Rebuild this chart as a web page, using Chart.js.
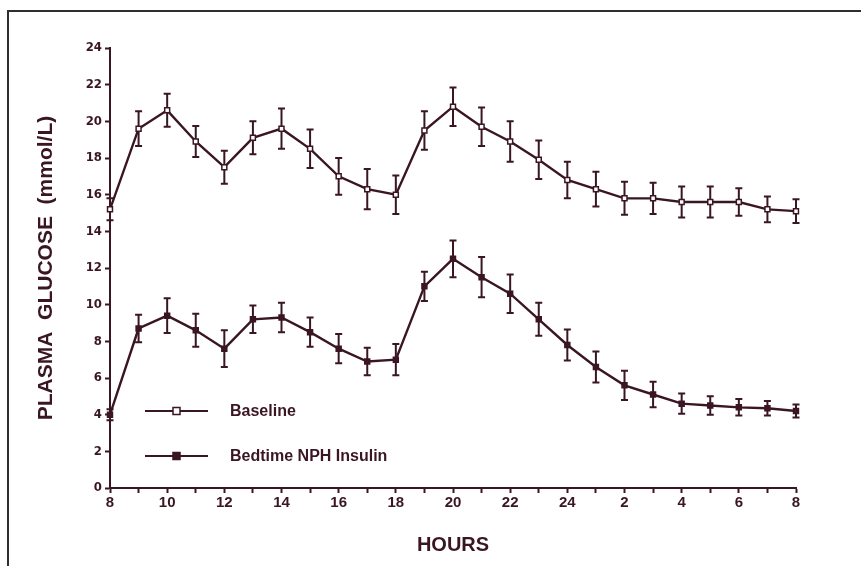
<!DOCTYPE html>
<html>
<head>
<meta charset="utf-8">
<script src="https://cdn.jsdelivr.net/npm/chart.js@4.4.1/dist/chart.umd.min.js"></script>
<style>
    body { margin: 0; background: #fff; }
    #wrap { position: relative; width: 861px; height: 566px; overflow: hidden; }
    #frame { position: absolute; left: 7px; top: 10px; width: 900px; height: 600px;
             border-left: 2px solid #2e2e2e; border-top: 2px solid #2e2e2e; }
    #glucoseChart { position: absolute; left: 0; top: 0; }
</style>
</head>
<body>
<div id="wrap">
    <div id="frame"></div>
    <canvas id="glucoseChart" width="861" height="566"></canvas>
</div>
<script>
// --- DATA ---
// clock hour of each sample, 8 am to 8 am next day
const clockHours = [8, 9, 10, 11, 12, 13, 14, 15, 16, 17, 18, 19, 20, 21, 22, 23, 24, 1, 2, 3, 4, 5, 6, 7, 8];
const xTickLabels = ['8', '', '10', '', '12', '', '14', '', '16', '', '18', '', '20', '', '22', '', '24', '', '2', '', '4', '', '6', '', '8'];

const baseline    = [15.2, 19.6, 20.6, 18.9, 17.5, 19.1, 19.6, 18.5, 17.0, 16.3, 16.0, 19.5, 20.8, 19.7, 18.9, 17.9, 16.8, 16.3, 15.8, 15.8, 15.6, 15.6, 15.6, 15.2, 15.1];
const baselineErr = [0.6, 0.95, 0.9, 0.85, 0.9, 0.9, 1.1, 1.05, 1.0, 1.1, 1.05, 1.05, 1.05, 1.05, 1.1, 1.05, 1.0, 0.95, 0.9, 0.85, 0.85, 0.85, 0.75, 0.7, 0.65];

const nph    = [4.0, 8.7, 9.4, 8.6, 7.6, 9.2, 9.3, 8.5, 7.6, 6.9, 7.0, 11.0, 12.5, 11.5, 10.6, 9.2, 7.8, 6.6, 5.6, 5.1, 4.6, 4.5, 4.4, 4.35, 4.2];
const nphErr = [0.3, 0.75, 0.95, 0.9, 1.0, 0.75, 0.8, 0.8, 0.8, 0.75, 0.85, 0.8, 1.0, 1.1, 1.05, 0.9, 0.85, 0.85, 0.8, 0.7, 0.55, 0.5, 0.45, 0.4, 0.35];

const seriesNames = ['Baseline', 'Bedtime NPH Insulin'];

// --- STYLE ---
const INK = '#3a1624';
const NARROW = "'Liberation Sans Narrow', 'DejaVu Sans Condensed', 'Liberation Sans', sans-serif";
const SANS = "'Liberation Sans', Arial, sans-serif";

// error bars, drawn under the line markers
const errorBars = {
    id: 'errorBars',
    beforeDatasetsDraw(chart) {
        const ctx = chart.ctx;
        const y = chart.scales.y;
        ctx.save();
        ctx.strokeStyle = INK;
        ctx.lineWidth = 2;
        chart.data.datasets.forEach((ds, di) => {
            const meta = chart.getDatasetMeta(di);
            meta.data.forEach((pt, i) => {
                const e = ds.errors[i];
                const v = ds.data[i];
                const yTop = y.getPixelForValue(v + e);
                const yBot = y.getPixelForValue(v - e);
                ctx.beginPath();
                ctx.moveTo(pt.x, yTop); ctx.lineTo(pt.x, yBot);
                ctx.moveTo(pt.x - 3.5, yTop); ctx.lineTo(pt.x + 3.5, yTop);
                ctx.moveTo(pt.x - 3.5, yBot); ctx.lineTo(pt.x + 3.5, yBot);
                ctx.stroke();
            });
        });
        ctx.restore();
    }
};

// legend sits inside the plot, lower left
const insideLegend = {
    id: 'insideLegend',
    afterDraw(chart) {
        const ctx = chart.ctx;
        const area = chart.chartArea;
        const x0 = area.left + 35, x1 = area.left + 98;
        const rows = [area.bottom - 77, area.bottom - 32];
        ctx.save();
        chart.data.datasets.forEach((ds, i) => {
            const yy = rows[i];
            ctx.strokeStyle = INK;
            ctx.lineWidth = 2;
            ctx.beginPath();
            ctx.moveTo(x0, yy); ctx.lineTo(x1, yy);
            ctx.stroke();
            const mx = (x0 + x1) / 2;
            ctx.fillStyle = ds.pointBackgroundColor;
            ctx.fillRect(mx - 3.5, yy - 3.5, 7, 7);
            ctx.lineWidth = 1.5;
            ctx.strokeRect(mx - 3.5, yy - 3.5, 7, 7);
            ctx.fillStyle = INK;
            ctx.font = 'bold 16px ' + SANS;
            ctx.textBaseline = 'middle';
            ctx.fillText(seriesNames[i], area.left + 120, yy + 1);
        });
        ctx.restore();
    }
};

function drawChart() {
    const ctx = document.getElementById('glucoseChart').getContext('2d');

    new Chart(ctx, {
        type: 'line',
        data: {
            labels: clockHours.map(String),
            datasets: [{
                label: seriesNames[0],
                data: baseline,
                errors: baselineErr,
                borderColor: INK,
                borderWidth: 2.4,
                pointStyle: 'rect',
                pointRadius: 3.5,
                pointBorderWidth: 1.5,
                pointBorderColor: INK,
                pointBackgroundColor: '#ffffff',
                tension: 0
            }, {
                label: seriesNames[1],
                data: nph,
                errors: nphErr,
                borderColor: INK,
                borderWidth: 2.4,
                pointStyle: 'rect',
                pointRadius: 3.5,
                pointBorderWidth: 1.5,
                pointBorderColor: INK,
                pointBackgroundColor: INK,
                tension: 0
            }]
        },
        options: {
            responsive: false,
            animation: false,
            layout: { padding: { left: 0, top: 48, right: 65, bottom: 0 } },
            plugins: {
                legend: { display: false },
                tooltip: { enabled: false }
            },
            scales: {
                x: {
                    type: 'category',
                    offset: false,
                    afterFit: s => { s.height = 78; },
                    grid: { drawOnChartArea: false, drawTicks: true, tickLength: 5, tickColor: INK, tickWidth: 2 },
                    border: { display: true, color: INK, width: 2 },
                    ticks: {
                        autoSkip: false,
                        maxRotation: 0,
                        padding: 1,
                        color: INK,
                        font: { family: SANS, size: 15, weight: 'bold' },
                        callback: (v, i) => xTickLabels[i]
                    },
                    title: {
                        display: true,
                        text: 'HOURS',
                        color: INK,
                        font: { family: SANS, size: 20, weight: 'bold' },
                        padding: { top: 0, bottom: 9 }
                    }
                },
                y: {
                    min: 0,
                    max: 24,
                    afterFit: s => { s.width = 110; },
                    grid: { drawOnChartArea: false, drawTicks: true, tickLength: 5, tickColor: INK, tickWidth: 2 },
                    border: { display: true, color: INK, width: 2 },
                    ticks: {
                        stepSize: 1,
                        padding: 3,
                        color: INK,
                        font: { family: NARROW, size: 13, weight: 'bold' },
                        callback: v => (v % 2 === 0 ? v : '')
                    },
                    title: {
                        display: true,
                        text: 'PLASMA  GLUCOSE  (mmol/L)',
                        color: INK,
                        font: { family: SANS, size: 21, weight: 'bold' },
                        padding: { top: 34, bottom: 0 }
                    }
                }
            }
        },
        plugins: [errorBars, insideLegend]
    });
}

document.addEventListener('DOMContentLoaded', drawChart);
</script>
</body>
</html>
